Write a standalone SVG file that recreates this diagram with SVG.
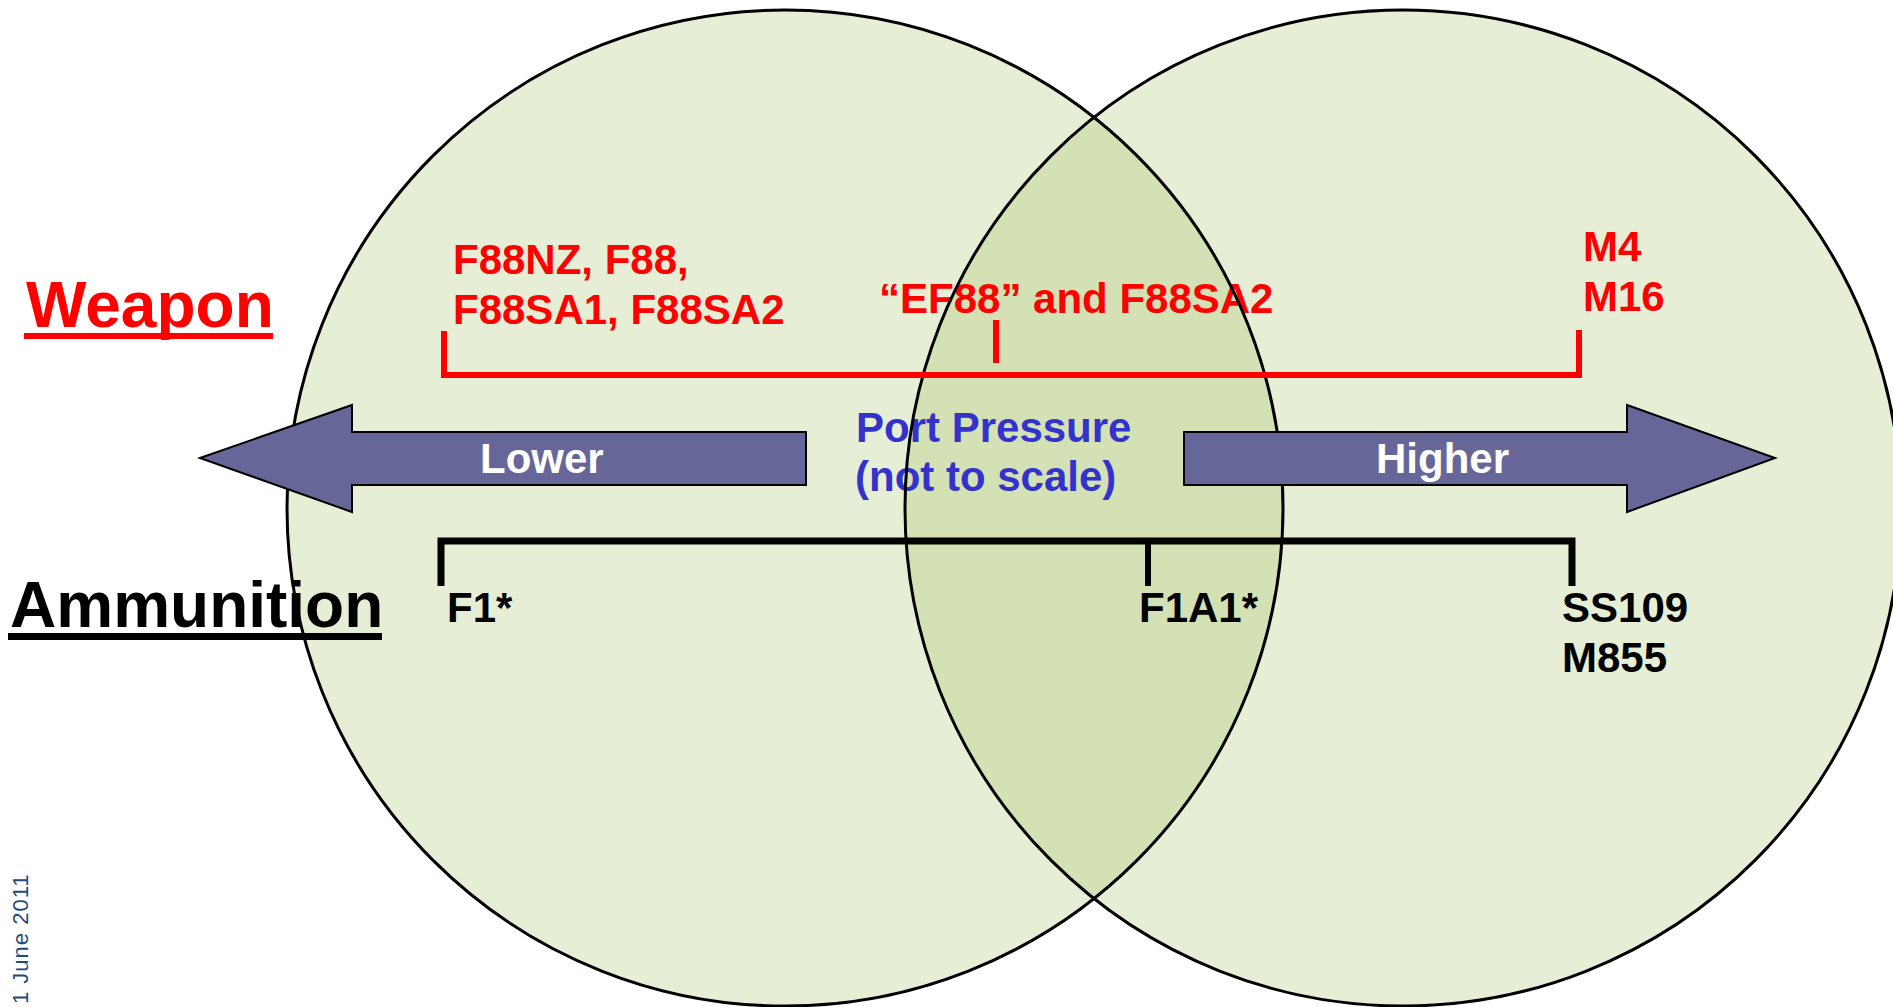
<svg xmlns="http://www.w3.org/2000/svg" width="1893" height="1007" viewBox="0 0 1893 1007">
<defs>
<style>
.fill{fill:#9BBB59;fill-opacity:0.25;stroke:none}
.outline{fill:none;stroke:#000;stroke-width:3}
.t{font-family:"Liberation Sans",Arial,sans-serif;font-weight:bold;font-size:42px}
.red{fill:#FF0000}
.blk{fill:#000}
.wht{fill:#FFFFFF}
.blu{fill:#3333CC}
.big{font-size:64px}
.arrow{fill:#666699;stroke:#000;stroke-width:2;stroke-linejoin:miter}
.rb{fill:none;stroke:#FF0000;stroke-width:6}
.bb{fill:none;stroke:#000;stroke-width:7}
.bt{fill:none;stroke:#000;stroke-width:6}
.date{font-family:"Liberation Sans",Arial,sans-serif;font-size:22px;fill:#1F4A7A;letter-spacing:1px}
</style>
</defs>
<rect width="1893" height="1007" fill="#FFFFFF"/>
<g id="circle-fills">
<circle id="circle-left-fill" class="fill" cx="785" cy="508" r="498"/>
<circle id="circle-right-fill" class="fill" cx="1403" cy="508" r="498"/>
</g>
<g id="label-weapon">
<text class="t big red" x="26" y="327">Weapon</text>
<rect x="24" y="333" width="249" height="6" fill="#FF0000"/>
</g>
<g id="label-ammunition">
<text class="t big blk" x="10" y="627">Ammunition</text>
<rect x="8" y="633" width="374" height="7" fill="#000"/>
</g>
<g id="weapon-low">
<text class="t red" x="453" y="274">F88NZ, F88,</text>
<text class="t red" x="453" y="324">F88SA1, F88SA2</text>
</g>
<g id="weapon-mid">
<text class="t red" x="879" y="313">“EF88” and F88SA2</text>
</g>
<g id="weapon-high">
<text class="t red" x="1583" y="261">M4</text>
<text class="t red" x="1583" y="311">M16</text>
</g>
<g id="port-pressure">
<text class="t blu" x="856" y="442">Port Pressure</text>
<text class="t blu" x="855" y="491">(not to scale)</text>
</g>
<g id="ammo-low"><text class="t blk" x="447" y="622">F1*</text></g>
<g id="ammo-mid"><text class="t blk" x="1139" y="622">F1A1*</text></g>
<g id="ammo-high">
<text class="t blk" x="1562" y="622">SS109</text>
<text class="t blk" x="1562" y="672">M855</text>
</g>
<g id="circle-outlines">
<circle id="circle-left" class="outline" cx="785" cy="508" r="498"/>
<circle id="circle-right" class="outline" cx="1403" cy="508" r="498"/>
</g>
<g id="connectors">
<path class="rb" d="M444,331 V375 H1579 V330"/>
<line class="rb" x1="996" y1="320" x2="996" y2="363"/>
<path class="bb" d="M441,586 V541 H1572 V586"/>
<line class="bt" x1="1148" y1="541" x2="1148" y2="586"/>
</g>
<g id="arrow-lower">
<path class="arrow" d="M200,458 L352,405 L352,432 L806,432 L806,485 L352,485 L352,512 Z"/>
<text class="t wht" x="480" y="473">Lower</text>
</g>
<g id="arrow-higher">
<path class="arrow" d="M1184,432 L1627,432 L1627,405 L1775,458 L1627,512 L1627,485 L1184,485 Z"/>
<text class="t wht" x="1376" y="473">Higher</text>
</g>
<g id="date">
<text class="date" transform="translate(28,1004) rotate(-90)">1 June 2011</text>
</g>
</svg>
